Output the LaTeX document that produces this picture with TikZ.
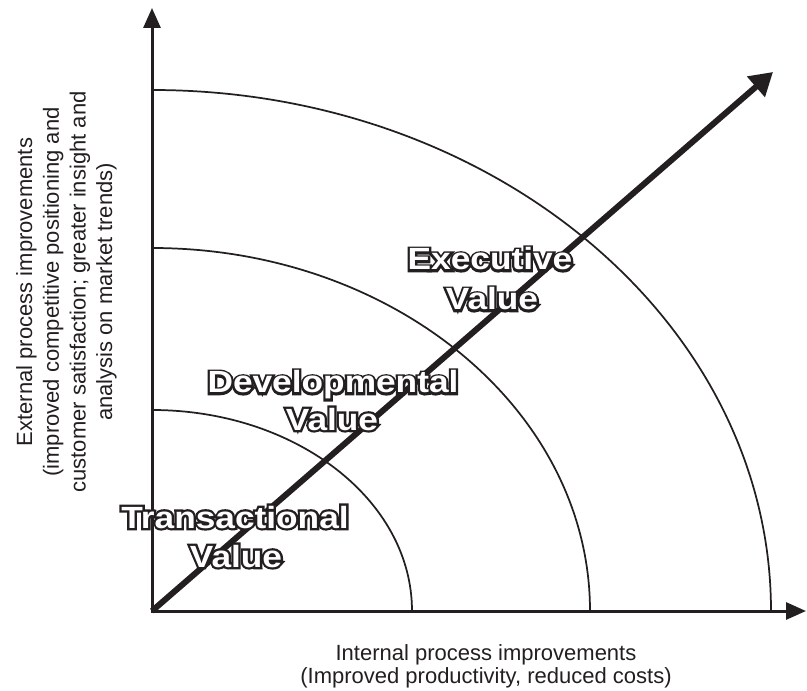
\documentclass[tikz,border=0pt]{standalone}
\usepackage{fontspec}
\setmainfont{Liberation Sans}
\newfontfamily\outstrokefont{Liberation Sans Bold}[FakeStretch=1.15,FakeBold=15]
\newfontfamily\outfillfont{Liberation Sans Bold}[FakeStretch=1.15]
\usetikzlibrary{arrows.meta}
\definecolor{ink}{RGB}{35,31,32}
\tikzset{
  axisline/.style={draw=ink, line width=2.25pt, line join=miter,
    {Triangle[length=15pt,width=12.75pt]}-{Triangle[length=15pt,width=12.75pt]}},
  diagline/.style={draw=ink, line width=4.5pt, -{Triangle[length=17pt,width=19.5pt]}},
  ring/.style={draw=ink, line width=1.3pt},
  lblstroke/.style={anchor=base, inner sep=0pt, text=ink,
    font=\outstrokefont\fontsize{23pt}{28pt}\selectfont},
  lblfill/.style={anchor=base, inner sep=0pt, text=white,
    font=\outfillfont\fontsize{23pt}{28pt}\selectfont},
  axislabel/.style={text=ink, inner sep=0pt, align=center},
}
\newcommand\outlbl[3]{%
  \node[lblstroke] (#1-o) at #2 {#3};
  \node[lblfill] (#1) at #2 {#3};}
\begin{document}
\begin{tikzpicture}[x=0.75pt,y=0.75pt]
\useasboundingbox (0,0) rectangle (807,690);
\coordinate (O) at (152,79);
\coordinate (ytip) at (152,682);
\coordinate (xtip) at (806,79);
\coordinate (dtip) at (773,618);
\coordinate (r1) at (412,79);
\coordinate (r2) at (590,79);
\coordinate (r3) at (771,79);
% value rings
\draw[ring] (r1) arc[start angle=0,end angle=90,x radius=195pt,y radius=150.75pt];
\draw[ring] (r2) arc[start angle=0,end angle=90,x radius=328.5pt,y radius=272.25pt];
\draw[ring] (r3) arc[start angle=0,end angle=90,x radius=464.25pt,y radius=390.75pt];
% diagonal
\draw[diagline] (O) -- (dtip);
% axes
\draw[axisline] (ytip) -- (O) -- (xtip);
% region labels
\outlbl{trans}{(235,162)}{Transactional}
\outlbl{transv}{(236,123)}{Value}
\outlbl{dev}{(333,297)}{Developmental}
\outlbl{devv}{(332,260)}{Value}
\outlbl{exec}{(490,420)}{Executive}
\outlbl{execv}{(492,380)}{Value}
% axis labels
\node[axislabel, anchor=north, font=\fontsize{16.5pt}{17.5pt}\selectfont] (xl) at (486,46)
  {Internal process improvements\\(Improved productivity, reduced costs)};
\node[axislabel, rotate=90, anchor=north, font=\fontsize{16.5pt}{20pt}\selectfont] (yl) at (16,398)
  {External process improvements\\(improved competitive positioning and\\customer satisfaction; greater insight and\\analysis on market trends)};
\end{tikzpicture}
\end{document}
